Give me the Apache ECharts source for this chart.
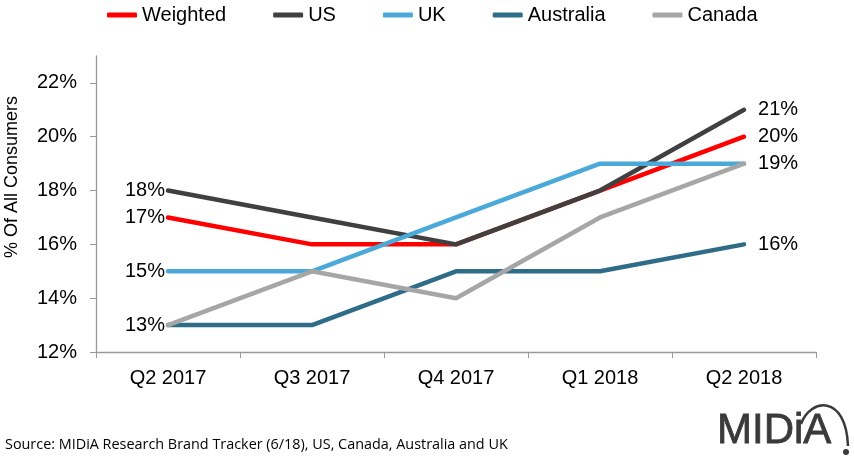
<!DOCTYPE html>
<html>
<head>
<meta charset="utf-8">
<script src="https://cdn.jsdelivr.net/npm/echarts@6/dist/echarts.min.js"></script>
<style>
  html, body { margin: 0; padding: 0; background: #fff; }
  #main { width: 854px; height: 457px; }
</style>
</head>
<body>
<div id="main"></div>
<script>
var quarters = ['Q2 2017', 'Q3 2017', 'Q4 2017', 'Q1 2018', 'Q2 2018'];
var weighted = [17, 16, 16, 18, 20];
var us = [18, 17, 16, 18, 21];
var uk = [15, 15, 17, 19, 19];
var australia = [13, 13, 15, 15, 16];
var canada = [13, 15, 14, 17, 19];
var yTicks = [12, 14, 16, 18, 20, 22];

var font = 'Liberation Sans, Arial, sans-serif';
var chart = echarts.init(document.getElementById('main'));

// first / last point labels; shared end values are labelled once
function withEndLabels(arr, showFirst, showLast) {
	return arr.map(function(v, i) {
		var item = { value: v };
		if (i === 0 && showFirst) {
			item.label = { show: true, position: 'left', distance: 3 };
		} else if (i === arr.length - 1 && showLast) {
			item.label = { show: true, position: 'right', distance: 14 };
		}
		return item;
	});
}

function makeSeries(name, arr, color, showFirst, showLast) {
	return {
		name: name,
		type: 'line',
		data: withEndLabels(arr, showFirst, showLast),
		symbol: 'circle',
		symbolSize: 0.1,
		showSymbol: true,
		lineStyle: { color: color, width: 4.5, cap: 'round' },
		itemStyle: { color: color },
		label: {
			show: false,
			formatter: '{c}%',
			fontFamily: font,
			fontSize: 20,
			color: '#000'
		}
	};
}

var option = {
	animation: false,
	legend: {
		left: 102,
		top: 0,
		itemGap: 47,
		itemWidth: 30,
		itemHeight: 5,
		icon: 'roundRect',
		textStyle: { fontFamily: font, fontSize: 20, color: '#000' },
		data: ['Weighted', 'US', 'UK', 'Australia', 'Canada']
	},
	grid: { left: 96, right: 38, top: 56, bottom: 105 },
	xAxis: {
		type: 'category',
		data: quarters,
		boundaryGap: true,
		axisLine: { lineStyle: { color: '#999', width: 1.3 } },
		axisTick: { show: true, length: 6, lineStyle: { color: '#999' } },
		axisLabel: { fontFamily: font, fontSize: 20, color: '#000', margin: 16 }
	},
	yAxis: {
		type: 'value',
		min: 12,
		max: 23,
		interval: 1,
		splitLine: { show: false },
		axisLine: { show: true, lineStyle: { color: '#999', width: 1.3 } },
		axisTick: { show: true, length: 6, lineStyle: { color: '#999' }, customValues: yTicks },
		axisLabel: {
			fontFamily: font, fontSize: 20, color: '#000', margin: 19,
			customValues: yTicks,
			formatter: '{value}%'
		}
	},
	graphic: [{
		type: 'text',
		x: 12, y: 177,
		rotation: Math.PI / 2,
		style: {
			text: '% Of All Consumers',
			font: '18px ' + font,
			fill: '#000',
			align: 'center',
			verticalAlign: 'middle'
		}
	}, {
		type: 'text',
		left: 5, top: 438,
		style: {
			text: 'Source: MIDiA Research Brand Tracker (6/18), US, Canada, Australia and UK',
			font: '14.4px "Open Sans", sans-serif',
			fill: '#000'
		}
	}, {
		type: 'text',
		x: 717, y: 452,
		style: {
			text: 'MIDiA',
			font: '42px ' + font,
			fill: '#3a3a3a',
			verticalAlign: 'bottom',
			stroke: '#3a3a3a',
			lineWidth: 0.8
		}
	}, {
		type: 'bezierCurve',
		shape: { x1: 801, y1: 424, cpx1: 810, cpy1: 398, cpx2: 846, cpy2: 394, x2: 848, y2: 446 },
		style: { stroke: '#3a3a3a', lineWidth: 2.5, fill: null }
	}, {
		type: 'circle',
		shape: { cx: 846, cy: 452, r: 3 },
		style: { fill: '#3a3a3a' }
	}],
	series: [
		makeSeries('Weighted', weighted, '#ff0000', true, true),
		makeSeries('US', us, '#404040', true, true),
		makeSeries('UK', uk, '#4ba9d9', true, false),
		makeSeries('Australia', australia, '#2f6c88', true, true),
		makeSeries('Canada', canada, '#a6a6a6', false, true)
	]
};
chart.setOption(option);
</script>
</body>
</html>
